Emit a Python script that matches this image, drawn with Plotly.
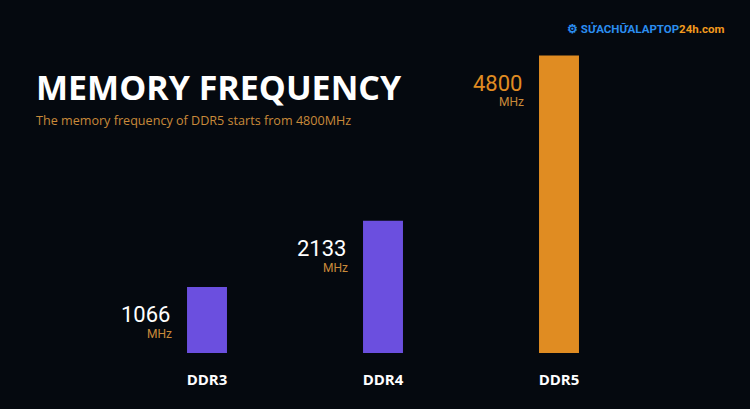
import plotly.graph_objects as go

categories = ["DDR3", "DDR4", "DDR5"]
frequency_mhz = [1066, 2133, 4800]
unit_label = "MHz"
title_text = "MEMORY FREQUENCY"
subtitle_text = "The memory frequency of DDR5 starts from 4800MHz"

BG = "#05090f"
PURPLE = "#6b4fdf"
ORANGE = "#e08c22"
MUTED_ORANGE = "#c98a3a"
bar_colors = [PURPLE, PURPLE, ORANGE]
value_colors = ["#ffffff", "#ffffff", ORANGE]

fig = go.Figure()
fig.add_trace(go.Bar(
    x=categories, y=frequency_mhz,
    marker=dict(color=bar_colors, line=dict(width=0)),
    hoverinfo="skip",
))

for cat, val, col in zip(categories, frequency_mhz, value_colors):
    fig.add_annotation(x=cat, y=val, xref="x", yref="y", text=str(val),
                       showarrow=False, xanchor="right", yanchor="middle",
                       xshift=-35, yshift=-28,
                       font=dict(family="Roboto", size=22, color=col))
    fig.add_annotation(x=cat, y=val, xref="x", yref="y", text=unit_label,
                       showarrow=False, xanchor="right", yanchor="middle",
                       xshift=-33, yshift=-47,
                       font=dict(family="Roboto", size=12, color=MUTED_ORANGE))

fig.add_annotation(x=34, y=87, xref="paper", yref="paper", text="<b>" + title_text + "</b>",
                   showarrow=False, xanchor="left", yanchor="middle",
                   font=dict(family="Open Sans", size=34, color="#ffffff"))
fig.add_annotation(text=subtitle_text, showarrow=False, xanchor="left", yanchor="middle",
                   x=34, y=121, xref="paper", yref="paper",
                   font=dict(family="Open Sans", size=12.6, color=MUTED_ORANGE))
fig.add_annotation(text="<b>⚙ <span style='color:#2b8ef0'>SỬACHỮALAPTOP</span><span style='color:#f39a1e'>24h.com</span></b>",
                   showarrow=False, xanchor="left", yanchor="middle",
                   x=565, y=29, xref="paper", yref="paper",
                   font=dict(family="Roboto", size=11.5, color="#2b8ef0"))

# convert pixel annotation positions to paper coords
W, H = 750, 409
ML, MR, MT, MB = 119, 103, 40, 56
pw, ph = W - ML - MR, H - MT - MB
for a in fig.layout.annotations:
    if a.xref == "paper":
        a.x = (a.x - ML) / pw
        a.y = 1 - (a.y - MT) / ph

fig.update_layout(
    width=W, height=H,
    margin=dict(l=ML, r=MR, t=MT, b=MB),
    paper_bgcolor=BG, plot_bgcolor=BG,
    bargap=0.773,
    showlegend=False,
    xaxis=dict(range=[-0.5, 2.5], showgrid=False, zeroline=False, showline=False,
               tickmode="array", tickvals=categories,
               ticktext=["<b>" + c + "</b>" for c in categories],
               tickfont=dict(family="Open Sans", size=15, color="#ffffff"),
               ticks="", ticklabelstandoff=16),
    yaxis=dict(range=[0, 5048], visible=False, showgrid=False, zeroline=False),
)

fig.write_html(
    "out.html",
    config={"displayModeBar": False, "staticPlot": True},
    post_script="document.body.style.margin='0';document.body.style.overflow='hidden';"
                "document.body.style.background='" + BG + "';",
)
